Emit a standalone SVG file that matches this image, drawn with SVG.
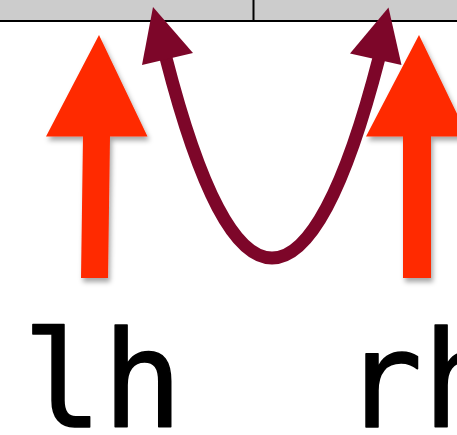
<svg xmlns="http://www.w3.org/2000/svg" width="457" height="435" viewBox="0 0 457 435">
<style>
.bar{fill:#cccccc}
.rule{stroke:#000;stroke-width:2}
.big{fill:#ff2a00;filter:url(#sh)}
.curve{fill:none;stroke:#7d0629;stroke-width:13}
.head{fill:#7d0629}
.lbl{font-family:"DejaVu Sans Mono",monospace;font-size:133px;fill:#000;stroke:#000;stroke-width:1.5;stroke-linejoin:round}
</style>
<defs>
<filter id="sh" x="-30%" y="-30%" width="160%" height="160%">
<feDropShadow dx="2" dy="4" stdDeviation="2.5" flood-color="#000" flood-opacity="0.35"/>
</filter>
</defs>
<g id="topbar">
<rect class="bar" x="0" y="0" width="457" height="21"/>
<line class="rule" x1="0" y1="21" x2="457" y2="21"/>
<line class="rule" x1="253.5" y1="0" x2="253.5" y2="21"/>
</g>
<g id="lh-arrow">
<polygon class="big" points="99,35 147.5,136.5 110,136.5 108,278 81,278 83,136.5 46,136.5"/>
</g>
<g id="rh-arrow">
<polygon class="big" points="419,35 468,136.5 431,136.5 431,278 403,278 403,136.5 366,136.5"/>
</g>
<g id="connectors">
<path class="curve" d="M166,58 C200,190 235,258 272,258 C309,258 345,190 379,58"/>
<polygon class="head" points="153,7 193,53 142,65"/>
<polygon class="head" points="388.5,7.5 401.5,65 350,53.5"/>
</g>
<g id="labels">
<text class="lbl" x="22.5" y="427">lh</text>
<text class="lbl" x="342.5" y="427">rh</text>
</g>
</svg>
